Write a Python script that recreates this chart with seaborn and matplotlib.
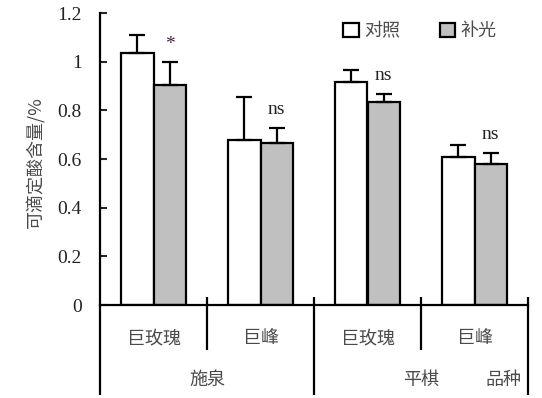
import matplotlib
matplotlib.use('Agg')
import numpy as np
import pandas as pd
import matplotlib.pyplot as plt
from matplotlib.patches import Patch
import seaborn as sns

# values
sites = ['施泉', '平棋']
cultivars = ['巨玫瑰', '巨峰', '巨玫瑰', '巨峰']
treatments = ['对照', '补光']
control_mean = [1.035, 0.678, 0.917, 0.608]
control_err = [0.075, 0.177, 0.049, 0.050]
light_mean = [0.905, 0.666, 0.834, 0.580]
light_err = [0.092, 0.061, 0.033, 0.045]
sig_marks = ['*', 'ns', 'ns', 'ns']
y_ticks = [0, 0.2, 0.4, 0.6, 0.8, 1.0, 1.2]

groups = [f'g{i}' for i in range(len(cultivars))]
df = pd.DataFrame({
    'group': groups * 2,
    'treatment': [treatments[0]] * 4 + [treatments[1]] * 4,
    'value': control_mean + light_mean,
})
errs = [control_err, light_err]

sns.set_theme(style='ticks')
plt.rcParams['font.family'] = ['Liberation Serif', 'Noto Sans CJK SC']
CJK = ['Noto Sans CJK SC', 'DejaVu Sans']
TXT = '#4a4a4a'
CJK_SIZE = 13
NUM_SIZE = 14

fig = plt.figure(figsize=(5.42, 3.98), dpi=100)
ax = fig.add_axes([100 / 542, 1 - 305 / 398, 428 / 542, 292 / 398])

sns.barplot(data=df, x='group', y='value', hue='treatment', order=groups,
            hue_order=treatments, palette={'对照': 'white', '补光': '#c0c0c0'},
            edgecolor='black', linewidth=1.6, width=0.6, errorbar=None,
            legend=False, ax=ax)

# upward-only error bars and significance marks
bar_conts = list(ax.containers)
for i, cont in enumerate(bar_conts):
    xs = [p.get_x() + p.get_width() / 2 for p in cont]
    hs = [p.get_height() for p in cont]
    ax.errorbar(xs, hs, yerr=[np.zeros(len(hs)), errs[i]], fmt='none',
                ecolor='black', elinewidth=1.6, capsize=5.5, capthick=1.6,
                zorder=1)
    if i == 1:
        for x, h, e, m in zip(xs, hs, errs[i], sig_marks):
            ax.text(x, h + e + 0.075, m, ha='center', va='center',
                    fontsize=NUM_SIZE, color='#222222' if m == 'ns' else '#4a2040')

ax.set_xlim(-0.5, len(groups) - 0.5)
ax.set_ylim(0, 1.2)
ax.set_yticks(y_ticks)
ax.set_yticklabels([f'{v:g}' for v in y_ticks], fontsize=NUM_SIZE, color='#222222')
ax.tick_params(axis='y', direction='in', length=5, width=1.5, pad=13)
ax.set_xticks([])
ax.set_xlabel('')
ax.set_ylabel('可滴定酸含量/%', family=CJK, fontsize=CJK_SIZE, color=TXT)
ax.yaxis.set_label_coords(-0.128, 0.49)

for s in ['top', 'right']:
    ax.spines[s].set_visible(False)
for s in ['left', 'bottom']:
    ax.spines[s].set_linewidth(1.6)
    ax.spines[s].set_color('black')

# category table below the axis
n = len(groups)
for k in range(n + 1):
    xf = k / n
    bottom = -0.308 if k % 2 == 0 else -0.154
    top = 0.0 if k == 0 else 0.027
    ax.plot([xf, xf], [top, bottom], transform=ax.transAxes, color='black',
            lw=1.6, clip_on=False, solid_capstyle='butt')
for k, name in enumerate(cultivars):
    ax.text((k + 0.5) / n, -0.113, name, transform=ax.transAxes,
            ha='center', va='center', family=CJK, fontsize=CJK_SIZE, color=TXT)
for k, name in enumerate(sites):
    ax.text((2 * k + 1) / n, -0.257, name, transform=ax.transAxes,
            ha='center', va='center', family=CJK, fontsize=CJK_SIZE, color=TXT)
ax.text(0.942, -0.257, '品种', transform=ax.transAxes, ha='center',
        va='center', family=CJK, fontsize=CJK_SIZE, color=TXT)

handles = [Patch(facecolor='white', edgecolor='black', linewidth=1.6),
           Patch(facecolor='#c0c0c0', edgecolor='black', linewidth=1.6)]
ax.legend(handles, treatments, loc='center left', bbox_to_anchor=(0.552, 0.937),
          ncol=2, frameon=False, handlelength=0.85, handleheight=0.85,
          handletextpad=0.3, columnspacing=2.2, borderaxespad=0,
          prop={'family': CJK, 'size': CJK_SIZE}, labelcolor=TXT)

fig.savefig('out.png', dpi=100)
